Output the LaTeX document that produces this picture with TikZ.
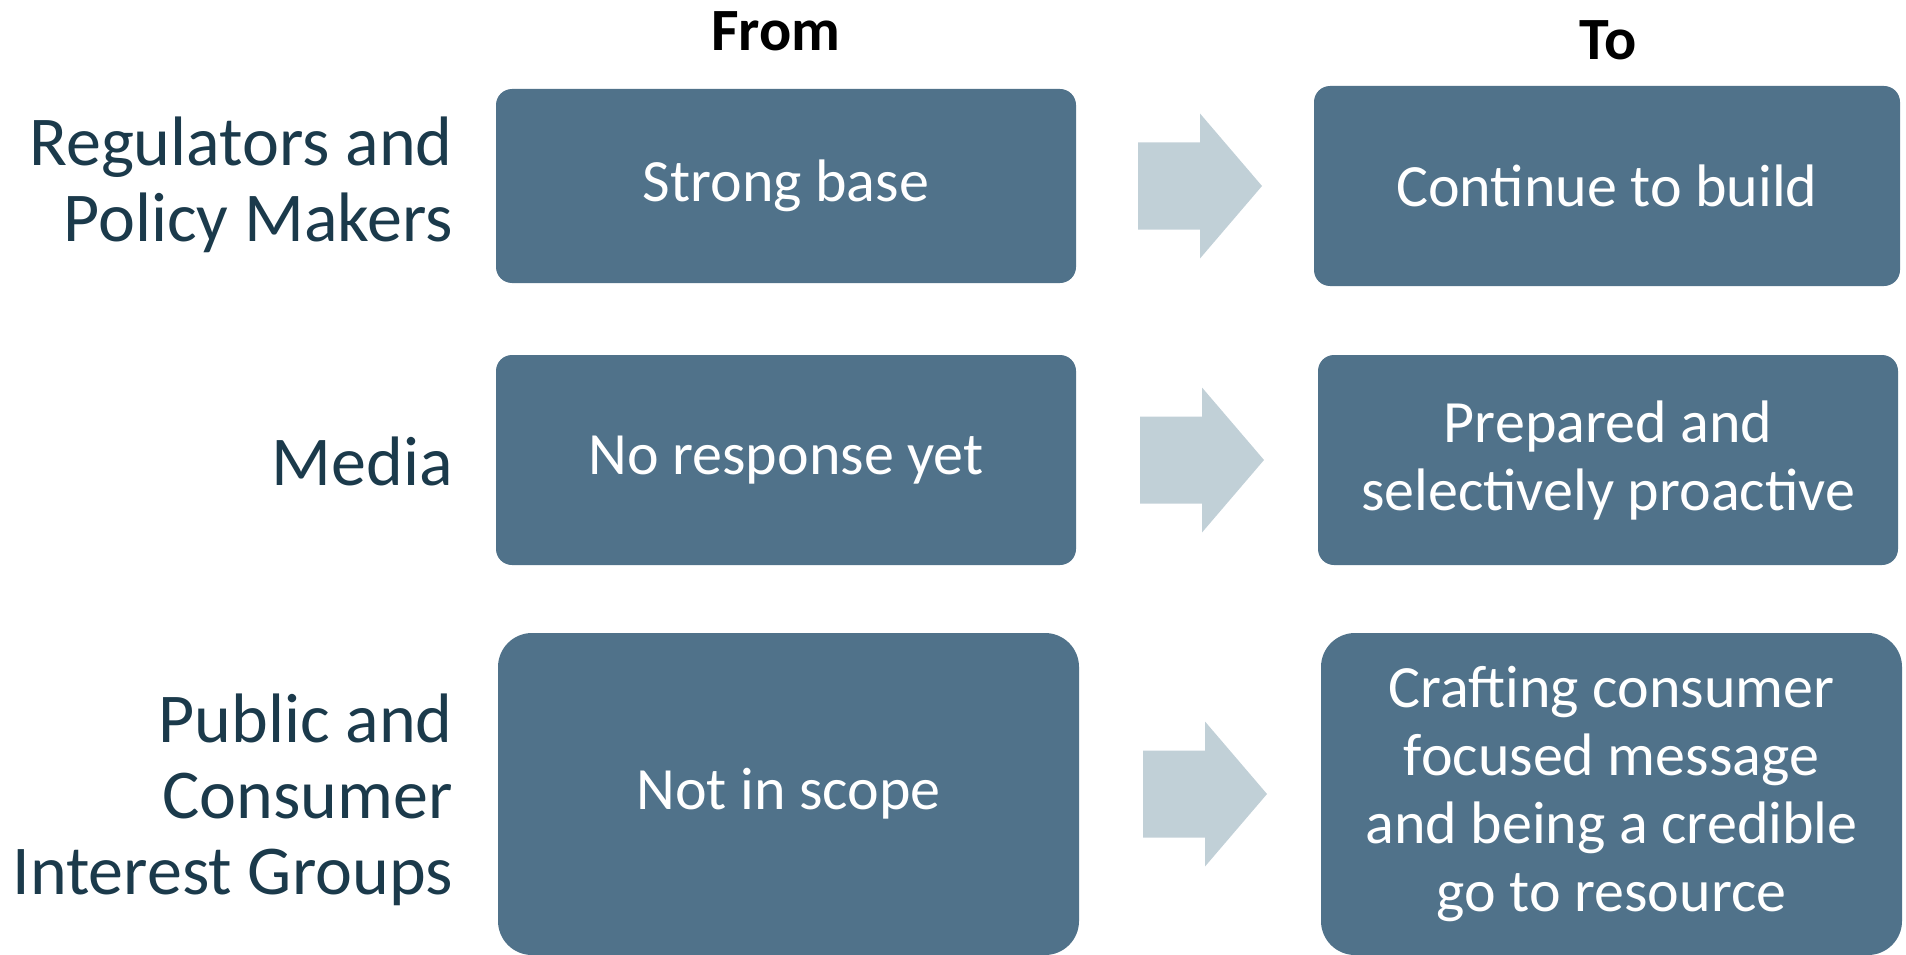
\documentclass[tikz,border=0pt]{standalone}
\usepackage{fontspec}
\setmainfont{Carlito}
\usepackage{tikz}
\usetikzlibrary{calc}
\definecolor{shiftblue}{HTML}{50728A}
\definecolor{shiftpale}{HTML}{C1D0D7}
\definecolor{shiftink}{HTML}{1B3A4B}
\tikzset{
  shiftbox/.style={rectangle,fill=shiftblue,text=white,align=center,inner sep=0pt,
    font=\fontsize{60}{68}\selectfont},
  shiftlabel/.style={anchor=east,align=right,text=shiftink,inner sep=0pt,
    font=\fontsize{70}{76}\selectfont},
  shifthead/.style={font=\bfseries\fontsize{60}{64}\selectfont,inner sep=0pt},
  shiftarrow/.style={fill=shiftpale}
}
\begin{document}
\begin{tikzpicture}[x=1pt,y=-1pt]
\useasboundingbox (0,0) rectangle (1906,955);
\node[shifthead] (from) at (776,31) {From};
\node[shifthead] (to) at (1608,40) {To};
% left column
\node[shiftbox,rounded corners=16pt,minimum width=580pt,minimum height=194pt] (f1) at (786,186) {Strong base};
\node[shiftbox,rounded corners=16pt,minimum width=580pt,minimum height=210pt] (f2) at (786,460) {No response yet};
\node[shiftbox,rounded corners=34pt,minimum width=581pt,minimum height=322pt] (f3) at (788.5,794) {Not in scope};
% right column
\node[shiftbox,rounded corners=16pt,minimum width=586pt,minimum height=200pt] (t1) at (1607,186) {Continue to build};
\node[shiftbox,rounded corners=16pt,minimum width=580pt,minimum height=210pt] (t2) at (1608,460) {Prepared and\\selectively proactive};
\node[shiftbox,rounded corners=34pt,minimum width=581pt,minimum height=322pt] (t3) at (1611.5,794) {Crafting consumer\\focused message\\and being a credible\\go to resource};
% row labels
\node[shiftlabel] (g1) at (453,185) {Regulators and\\Policy Makers};
\node[shiftlabel] (g2) at (453,461) {Media};
\node[shiftlabel] (g3) at (453,800) {Public and\\Consumer\\Interest Groups};
% arrows between the columns
\foreach \r in {1,2,3}{
  \coordinate (m\r) at ($(f\r.east)!0.5!(t\r.west)$);
  \fill[shiftarrow] ($(m\r)+(-57,-43.5)$) -- ($(m\r)+(5,-43.5)$) -- ($(m\r)+(5,-72.5)$)
    -- ($(m\r)+(67,0)$) -- ($(m\r)+(5,72.5)$) -- ($(m\r)+(5,43.5)$)
    -- ($(m\r)+(-57,43.5)$) -- cycle;
}
\end{tikzpicture}
\end{document}
